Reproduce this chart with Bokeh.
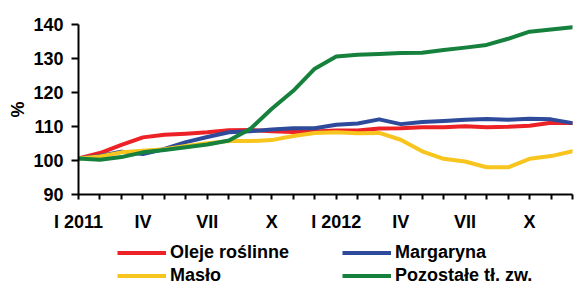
from bokeh.plotting import figure
from bokeh.models import Range1d, FixedTicker, Legend, LegendItem
from bokeh.layouts import column
from bokeh.embed import file_html
from bokeh.resources import INLINE

months = list(range(24))
tick_labels = {0: "I 2011", 3: "IV", 6: "VII", 9: "X", 12: "I 2012", 15: "IV", 18: "VII", 21: "X"}

oleje = [100.6, 102.2, 104.6, 106.8, 107.6, 107.9, 108.3, 108.9, 109.0, 108.6, 108.4, 108.5,
         108.8, 108.8, 109.4, 109.5, 109.8, 109.8, 110.1, 109.8, 109.9, 110.2, 111.1, 111.0]
margaryna = [100.6, 101.3, 102.6, 101.9, 103.4, 105.4, 106.9, 108.3, 108.6, 109.1, 109.5, 109.5,
             110.5, 110.9, 112.1, 110.7, 111.3, 111.6, 112.0, 112.2, 112.0, 112.3, 112.1, 111.0]
maslo = [100.6, 101.2, 102.4, 102.9, 103.3, 104.3, 105.1, 105.7, 105.7, 106.0, 107.2, 108.1,
         108.3, 108.0, 108.1, 106.1, 102.7, 100.5, 99.7, 98.0, 98.0, 100.5, 101.3, 102.7]
pozostale = [100.6, 100.2, 101.0, 102.4, 103.1, 103.9, 104.7, 105.9, 109.3, 115.2, 120.5, 127.0,
             130.6, 131.1, 131.3, 131.6, 131.7, 132.5, 133.2, 134.0, 135.8, 137.9, 138.5, 139.2]

names = ["Oleje roślinne", "Margaryna", "Masło", "Pozostałe tł. zw."]
colors = ["#ED2227", "#2E4B9B", "#F7C51E", "#16803D"]

FONT = "Liberation Sans"

p = figure(width=587, height=236, output_backend="svg", toolbar_location=None,
           x_range=Range1d(0, 23), y_range=Range1d(90, 140),
           min_border_left=78, min_border_right=15, min_border_top=24, min_border_bottom=42)
p.outline_line_color = None
p.xgrid.visible = False
p.ygrid.visible = False

series = [oleje, margaryna, maslo, pozostale]
for vals, c in zip(series, colors):
    p.line(months, vals, line_color=c, line_width=4, line_join="round", line_cap="round")

xa = p.xaxis[0]
xa.ticker = FixedTicker(ticks=months)
xa.major_label_overrides = {m: tick_labels.get(m, "") for m in months}
xa.major_tick_in = 0
xa.major_tick_out = 5
xa.minor_tick_line_color = None
xa.axis_line_width = 2
xa.major_tick_line_width = 2
xa.axis_line_color = "black"
xa.major_tick_line_color = "black"
xa.major_label_text_font = FONT
xa.major_label_text_font_style = "bold"
xa.major_label_text_font_size = "18px"
xa.major_label_text_color = "black"
xa.major_label_standoff = 12

ya = p.yaxis[0]
ya.ticker = FixedTicker(ticks=[90, 100, 110, 120, 130, 140])
ya.major_tick_in = 0
ya.major_tick_out = 7
ya.minor_tick_line_color = None
ya.axis_line_width = 2
ya.major_tick_line_width = 2
ya.axis_line_color = "black"
ya.major_tick_line_color = "black"
ya.major_label_text_font = FONT
ya.major_label_text_font_style = "bold"
ya.major_label_text_font_size = "18px"
ya.major_label_text_color = "black"
ya.major_label_standoff = 8
ya.axis_label = "%"
ya.axis_label_text_font = FONT
ya.axis_label_text_font_style = "bold"
ya.axis_label_text_font_size = "18px"
ya.axis_label_text_color = "black"
ya.axis_label_standoff = 2

# legend strip below the chart (series drawn out of view, only their legend glyphs show)
q = figure(width=587, height=52, output_backend="svg", toolbar_location=None,
           x_range=Range1d(0, 23), y_range=Range1d(0, 1),
           min_border_left=78, min_border_right=15, min_border_top=0, min_border_bottom=0)
q.axis.visible = False
q.grid.visible = False
q.outline_line_color = None
leg_r = [q.line(months, vals, line_color=c, line_width=4) for vals, c in zip(series, colors)]

def make_legend(idx, loc):
    items = [LegendItem(label=names[i], renderers=[leg_r[i]]) for i in idx]
    return Legend(items=items, location=loc, orientation="vertical",
                  glyph_width=49, glyph_height=21, label_standoff=4, spacing=2,
                  padding=0, margin=0, border_line_color=None, background_fill_alpha=0,
                  label_text_font=FONT, label_text_font_style="bold",
                  label_text_font_size="18px", label_text_color="black",
                  label_height=21)

q.add_layout(make_legend([0, 2], (39, 2)), "center")
q.add_layout(make_legend([1, 3], (264, 2)), "center")

open("out.html", "w").write(file_html(column(p, q, spacing=0), INLINE))
